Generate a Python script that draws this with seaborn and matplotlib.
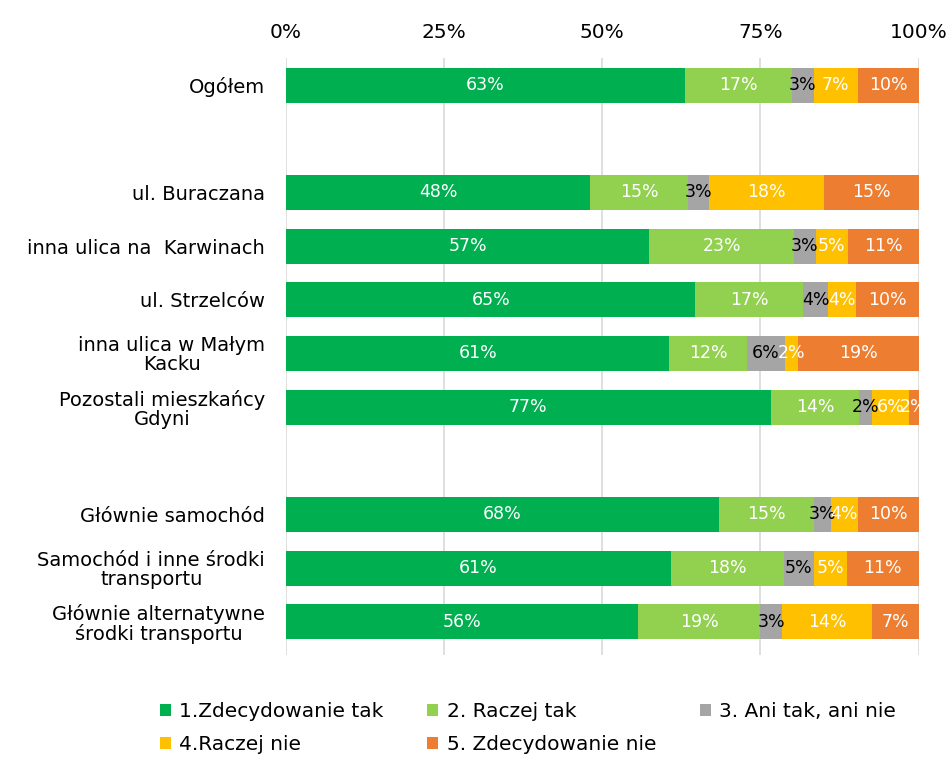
import matplotlib
matplotlib.use("Agg")
import matplotlib.pyplot as plt
import seaborn as sns
import pandas as pd
import numpy as np

# categories (blank names are spacer rows)
order = ["Ogółem", "", "ul. Buraczana", "inna ulica na  Karwinach", "ul. Strzelców",
         "inna ulica w Małym\nKacku", "Pozostali mieszkańcy\nGdyni", " ",
         "Głównie samochód", "Samochód i inne środki\ntransportu",
         "Głównie alternatywne\nśrodki transportu"]
groups = [c for c in order if c.strip()]

answers = ["1.Zdecydowanie tak", "2. Raczej tak", "3. Ani tak, ani nie",
           "4.Raczej nie", "5. Zdecydowanie nie"]
colors = ["#00B050", "#92D050", "#A5A5A5", "#FFC000", "#ED7D31"]
label_colors = ["white", "white", "black", "white", "white"]

# shares in %, one list per answer, in the order of `groups`
zdecydowanie_tak = [63.0, 48.1, 57.4, 64.7, 60.6, 76.6, 68.4, 60.9, 55.6]
raczej_tak       = [17.0, 15.4, 22.9, 17.1, 12.2, 14.0, 15.1, 17.8, 19.4]
ani_tak_ani_nie  = [3.4, 3.3, 3.4, 3.9, 6.1, 2.1, 2.6, 4.7, 3.4]
raczej_nie       = [7.0, 18.3, 5.2, 4.4, 2.0, 5.7, 4.3, 5.3, 14.2]
zdecydowanie_nie = [9.6, 14.9, 11.1, 9.9, 19.1, 1.6, 9.6, 11.3, 7.4]

vals = np.array([zdecydowanie_tak, raczej_tak, ani_tak_ani_nie,
                 raczej_nie, zdecydowanie_nie])
cum = vals.cumsum(axis=0)

df = pd.DataFrame({"grupa": groups})
for k in range(5):
    df["cum%d" % k] = cum[k]

plt.rcParams['font.family'] = ['DejaVu Sans']
fig = plt.figure(figsize=(9.5, 7.67), dpi=100)
ax = fig.add_axes([0.301, 0.146, 0.666, 0.778])

# draw stacked bars as overlapping cumulative totals, last answer first
for k in range(4, -1, -1):
    sns.barplot(data=df, y="grupa", x="cum%d" % k, order=order, color=colors[k],
                width=0.65, ax=ax, saturation=1, linewidth=0, label=answers[k])
if ax.get_legend() is not None:
    ax.get_legend().remove()

# value labels in the middle of each segment
pos = {c: i for i, c in enumerate(order)}
for j, g in enumerate(groups):
    for k in range(5):
        v = vals[k, j]
        mid = cum[k, j] - v / 2
        ax.text(mid, pos[g], "%.0f%%" % v, ha="center", va="center",
                color=label_colors[k], fontsize=12.5)

ax.set_xlim(0, 100)
ax.set_ylim(10.62, -0.5)
ax.set_xticks([0, 25, 50, 75, 100])
ax.set_xticklabels(["0%", "25%", "50%", "75%", "100%"], fontsize=14.5)
ax.xaxis.tick_top()
ax.tick_params(axis="both", length=0)
ax.tick_params(axis="x", pad=12)
ax.tick_params(axis="y", pad=15)
for t in ax.get_yticklabels():
    t.set_fontsize(14)
    t.set_multialignment("center")
    t.set_linespacing(1.0)
ax.set_xlabel("")
ax.set_ylabel("")
ax.grid(axis="x", color="#D9D9D9", linewidth=1.2)
ax.set_axisbelow(True)
for s in ax.spines.values():
    s.set_visible(False)

handles, labels = ax.get_legend_handles_labels()
hmap = dict(zip(labels, handles))
leg_order = [answers[0], answers[3], answers[1], answers[4], answers[2]]
fig.legend([hmap[a] for a in leg_order], leg_order, ncol=3, frameon=False,
           loc="upper left", bbox_to_anchor=(0.168, 0.085), fontsize=14.5,
           borderpad=0, borderaxespad=0,
           handlelength=0.55, handleheight=0.55, handletextpad=0.4,
           columnspacing=2.2, labelspacing=0.7)

fig.savefig("out.png", dpi=100)
